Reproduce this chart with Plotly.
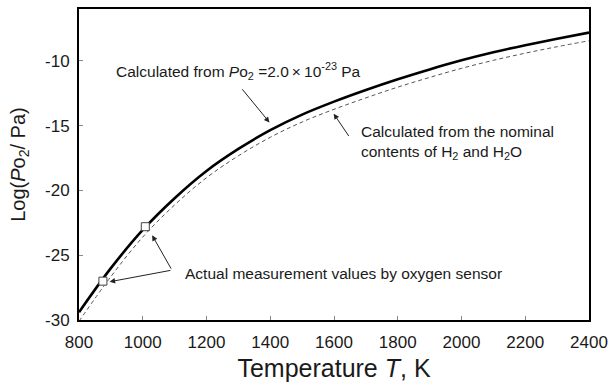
import plotly.graph_objects as go

temps = [800, 900, 1000, 1100, 1200, 1300, 1400, 1500, 1600, 1700, 1800, 1900, 2000, 2100, 2200, 2300, 2400]
calc_po2 = [-29.4, -26.0, -23.05, -20.6, -18.5, -16.8, -15.35, -14.15, -13.15, -12.25, -11.42, -10.66, -9.96, -9.34, -8.79, -8.29, -7.82]
calc_nominal = [-30.1, -26.65, -23.6, -21.12, -19.02, -17.33, -15.9, -14.72, -13.74, -12.86, -12.03, -11.28, -10.58, -9.96, -9.41, -8.91, -8.45]
meas_T = [875, 1008]
meas_logpo2 = [-27.0, -22.8]
x_ticks = [800, 1000, 1200, 1400, 1600, 1800, 2000, 2200, 2400]
y_ticks = [-30, -25, -20, -15, -10]
y_tick_labels = ["-30", "-25", "-20", "-15", "-10"]

FONT = "Liberation Sans, Arial, sans-serif"

fig = go.Figure()
fig.add_trace(go.Scatter(x=temps, y=calc_nominal, mode="lines", line_shape="spline",
                         line=dict(color="#555555", width=1, dash="4px,3px"),
                         showlegend=False))
fig.add_trace(go.Scatter(x=temps, y=calc_po2, mode="lines", line_shape="spline",
                         line=dict(color="black", width=2.6), showlegend=False))
fig.add_trace(go.Scatter(x=meas_T, y=meas_logpo2, mode="markers",
                         marker=dict(symbol="square", size=8, color="white",
                                     line=dict(color="#444444", width=1)),
                         showlegend=False))

ann_font = dict(family=FONT, size=15.5, color="#1a1a1a")
annotations = [
    dict(x=911, y=-10.8, xref="x", yref="y", xanchor="left", yanchor="middle", showarrow=False,
         text="Calculated from <i>P</i>o<sub>2</sub> =2.0\u2009\u00d7\u200910<sup>-23</sup> Pa", font=ann_font),
    dict(x=1677, y=-16.32, xref="x", yref="y", xanchor="left", yanchor="middle", showarrow=False, align="left",
         text="Calculated from the nominal<br>contents of H<sub>2</sub> and H<sub>2</sub>O", font=ann_font),
    dict(x=1126, y=-26.4, xref="x", yref="y", xanchor="left", yanchor="middle", showarrow=False,
         text="Actual measurement values by oxygen sensor", font=ann_font),
]
arrows = [
    (1397.5, -14.75, 1308.5, -12.08),
    (1599, -14.08, 1649.6, -15.92),
    (1029.5, -23.46, 1091.5, -26.15),
    (896, -27.05, 1091.5, -26.15),
]
for tx, ty, sx, sy in arrows:
    annotations.append(dict(x=tx, y=ty, ax=sx, ay=sy, xref="x", yref="y", axref="x", ayref="y",
                            text="", showarrow=True, arrowhead=2, arrowsize=1.1, arrowwidth=1,
                            arrowcolor="#222222"))

fig.update_layout(
    width=615, height=389,
    margin=dict(l=79, r=20, t=7, b=69),
    paper_bgcolor="white", plot_bgcolor="white",
    font=dict(family=FONT, color="#1a1a1a"),
    annotations=annotations,
)
fig.update_xaxes(range=[800, 2400], tickvals=x_ticks, ticks="inside", ticklen=4, tickcolor="#888888",
                 showline=True, linecolor="black", linewidth=2, mirror=True, showgrid=False, zeroline=False,
                 tickfont=dict(size=17, family=FONT), ticklabelstandoff=6,
                 title=dict(text="Temperature <i>T</i>, K", font=dict(size=25, family=FONT), standoff=8))
fig.update_yaxes(range=[-30, -6], tickvals=y_ticks, ticktext=y_tick_labels, ticks="inside", ticklen=4,
                 tickcolor="#888888",
                 showline=True, linecolor="black", linewidth=2, mirror=True, showgrid=False, zeroline=False,
                 tickfont=dict(size=17, family=FONT), ticklabelstandoff=4,
                 title=dict(text="Log(<i>P</i>o<sub>2</sub>/ Pa)", font=dict(size=20, family=FONT), standoff=14))

fig.write_html("out.html")
